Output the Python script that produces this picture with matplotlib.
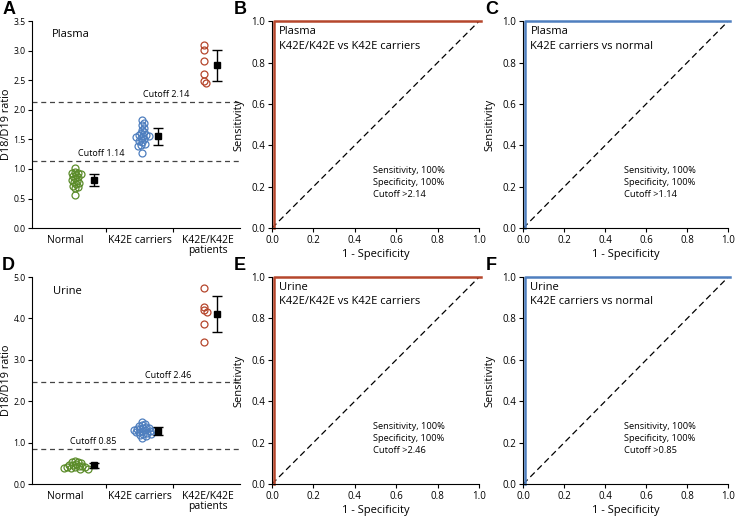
import numpy as np
import matplotlib.pyplot as plt

plt.rcParams['font.family'] = ['Open Sans', 'DejaVu Sans']

# данные
groups = ['Normal', 'K42E carriers', 'K42E/K42E\npatients']
colors = ['#5b8c2a', '#4f7fbf', '#b5462c']

plasma_normal = [1.01, 0.95, 0.94, 0.93, 0.92, 0.90, 0.88, 0.86, 0.84, 0.82,
                 0.80, 0.78, 0.76, 0.74, 0.72, 0.70, 0.68, 0.56]
plasma_carriers = [1.82, 1.78, 1.74, 1.70, 1.66, 1.62, 1.60, 1.58, 1.57, 1.56,
                   1.55, 1.54, 1.52, 1.50, 1.48, 1.45, 1.42, 1.40, 1.38, 1.27]
plasma_patients = [3.09, 3.01, 2.83, 2.60, 2.49, 2.46]
plasma_mean = [0.82, 1.55, 2.75]
plasma_sd = [0.10, 0.14, 0.27]

urine_normal = [0.55, 0.54, 0.52, 0.50, 0.48, 0.47, 0.45, 0.44, 0.43, 0.42,
                0.41, 0.40, 0.39, 0.38, 0.37, 0.36]
urine_carriers = [1.50, 1.45, 1.42, 1.40, 1.38, 1.36, 1.35, 1.33, 1.32, 1.31,
                  1.30, 1.29, 1.28, 1.27, 1.26, 1.25, 1.24, 1.22, 1.20, 1.18,
                  1.15, 1.12]
urine_patients = [4.73, 4.28, 4.20, 4.16, 3.87, 3.42]
urine_mean = [0.45, 1.28, 4.11]
urine_sd = [0.06, 0.09, 0.43]

plasma_cutoffs = [1.14, 2.14]
urine_cutoffs = [0.85, 2.46]

roc_fpr = [0, 0, 1]
roc_tpr = [0, 1, 1]

# где стоят облака точек и средние (в единицах оси x)
swarm_x = [0.04, 1.04, 1.96]
mean_x = [0.32, 1.28, 2.16]


def swarm(vals, ypp, d=3.0):
    # простой beeswarm в пикселях: сдвигаем кружок вбок, пока не перестанет пересекаться
    placed = []
    xs = []
    for v in vals:
        y = v / ypp
        k = 0
        found = None
        while found is None:
            for off in ([0] if k == 0 else [k, -k]):
                if all((off - px) ** 2 + (y - py) ** 2 >= d ** 2 for px, py in placed):
                    found = off
                    break
            k += 0.5
        placed.append((found, y))
        xs.append(found)
    return np.array(xs)


def scatter_panel(ax, data, means, sds, cutoffs, ymax, ystep, cut_x, tissue, tissue_pos):
    ypp = ymax / 207.0
    xpp = 1 / 67.0
    for i, vals in enumerate(data):
        xs = swarm(vals, ypp) * xpp + swarm_x[i]
        ax.plot(xs, vals, 'o', mfc='none', mec=colors[i], ms=5.0, mew=0.9, clip_on=False)
        ax.errorbar(mean_x[i], means[i], yerr=sds[i], fmt='s', color='black',
                    ms=4.5, capsize=3.8, elinewidth=1, capthick=1)
    for c, cx in zip(cutoffs, cut_x):
        ax.axhline(c, color='#444444', ls=(0, (4, 3)), lw=0.9)
        ax.text(cx, c + ymax * 0.012, 'Cutoff %.2f' % c, fontsize=6.5, ha='center', va='bottom')
    ax.text(tissue_pos[0], tissue_pos[1], tissue, fontsize=8, va='top')
    ax.set_xlim(-0.6, 2.5)
    ax.set_ylim(0, ymax)
    ax.set_yticks(np.arange(0, ymax + 0.01, ystep))
    ax.set_yticklabels(['%.1f' % t for t in np.arange(0, ymax + 0.01, ystep)])
    ax.set_xticks([0.5, 1.5])
    ax.set_xticklabels([])
    ax.set_xticks([-0.1, 1.0, 2.02], minor=True)
    ax.set_xticklabels(groups, minor=True, fontsize=7.5, linespacing=0.9)
    ax.tick_params(axis='x', which='minor', length=0, pad=5)
    ax.tick_params(axis='x', which='major', length=3)
    ax.tick_params(axis='y', labelsize=6.2, length=3, pad=1.5)
    ax.set_ylabel('D18/D19 ratio', fontsize=7.8)
    ax.yaxis.set_label_coords(-0.097, 0.5)
    for s in ['top', 'right']:
        ax.spines[s].set_visible(False)


def roc_panel(ax, color, tissue, compare, cutoff):
    ax.plot([0, 1], [0, 1], color='black', ls=(0, (5, 3)), lw=0.9)
    ax.plot(np.array(roc_fpr) + 0.008, roc_tpr, color=color, lw=1.8, clip_on=False)
    ax.set_xlim(0, 1)
    ax.set_ylim(0, 1)
    ticks = np.arange(0, 1.01, 0.2)
    ax.set_xticks(ticks)
    ax.set_yticks(ticks)
    ax.set_xticklabels(['%.1f' % t for t in ticks])
    ax.set_yticklabels(['%.1f' % t for t in ticks])
    ax.tick_params(labelsize=7, length=3, pad=2)
    ax.set_xlabel('1 - Specificity', fontsize=8, labelpad=2)
    ax.set_ylabel('Sensitivity', fontsize=8)
    ax.yaxis.set_label_coords(-0.135, 0.5)
    for s in ['top', 'right']:
        ax.spines[s].set_visible(False)
    ax.text(0.035, 0.975, tissue + '\n' + compare, fontsize=8, va='top', linespacing=1.4,
            transform=ax.transAxes)
    ax.text(0.49, 0.30, 'Sensitivity, 100%\nSpecificity, 100%\nCutoff >' + cutoff,
            fontsize=6.7, va='top', linespacing=1.4, transform=ax.transAxes)


fig = plt.figure(figsize=(7.37, 5.16), dpi=100)

row_top = [0.558, 0.959]
row_bot = [0.062, 0.463]
cols = [(0.0434, 0.326), (0.369, 0.650), (0.710, 0.988)]
letter_x = [0.003, 0.317, 0.659]
letter_y = [0.981, 0.486]

axs = {}
letters = 'ABCDEF'
n = 0
for ri, r in enumerate([row_top, row_bot]):
    for ci, c in enumerate(cols):
        ax = fig.add_axes([c[0], r[0], c[1] - c[0], r[1] - r[0]])
        axs[letters[n]] = ax
        fig.text(letter_x[ci], letter_y[ri], letters[n], fontsize=13, fontweight='bold',
                 family='Liberation Sans', va='center', ha='left')
        n += 1

scatter_panel(axs['A'], [plasma_normal, plasma_carriers, plasma_patients], plasma_mean, plasma_sd,
              plasma_cutoffs, 3.5, 0.5, [0.43, 1.4], 'Plasma', (-0.31, 3.37))
scatter_panel(axs['D'], [urine_normal, urine_carriers, urine_patients], urine_mean, urine_sd,
              urine_cutoffs, 5.0, 1.0, [0.31, 1.43], 'Urine', (-0.28, 4.78))

roc_panel(axs['B'], '#b5462c', 'Plasma', 'K42E/K42E vs K42E carriers', '2.14')
roc_panel(axs['C'], '#4f7fbf', 'Plasma', 'K42E carriers vs normal', '1.14')
roc_panel(axs['E'], '#b5462c', 'Urine', 'K42E/K42E vs K42E carriers', '2.46')
roc_panel(axs['F'], '#4f7fbf', 'Urine', 'K42E carriers vs normal', '0.85')

plt.savefig('out.png', dpi=100)
